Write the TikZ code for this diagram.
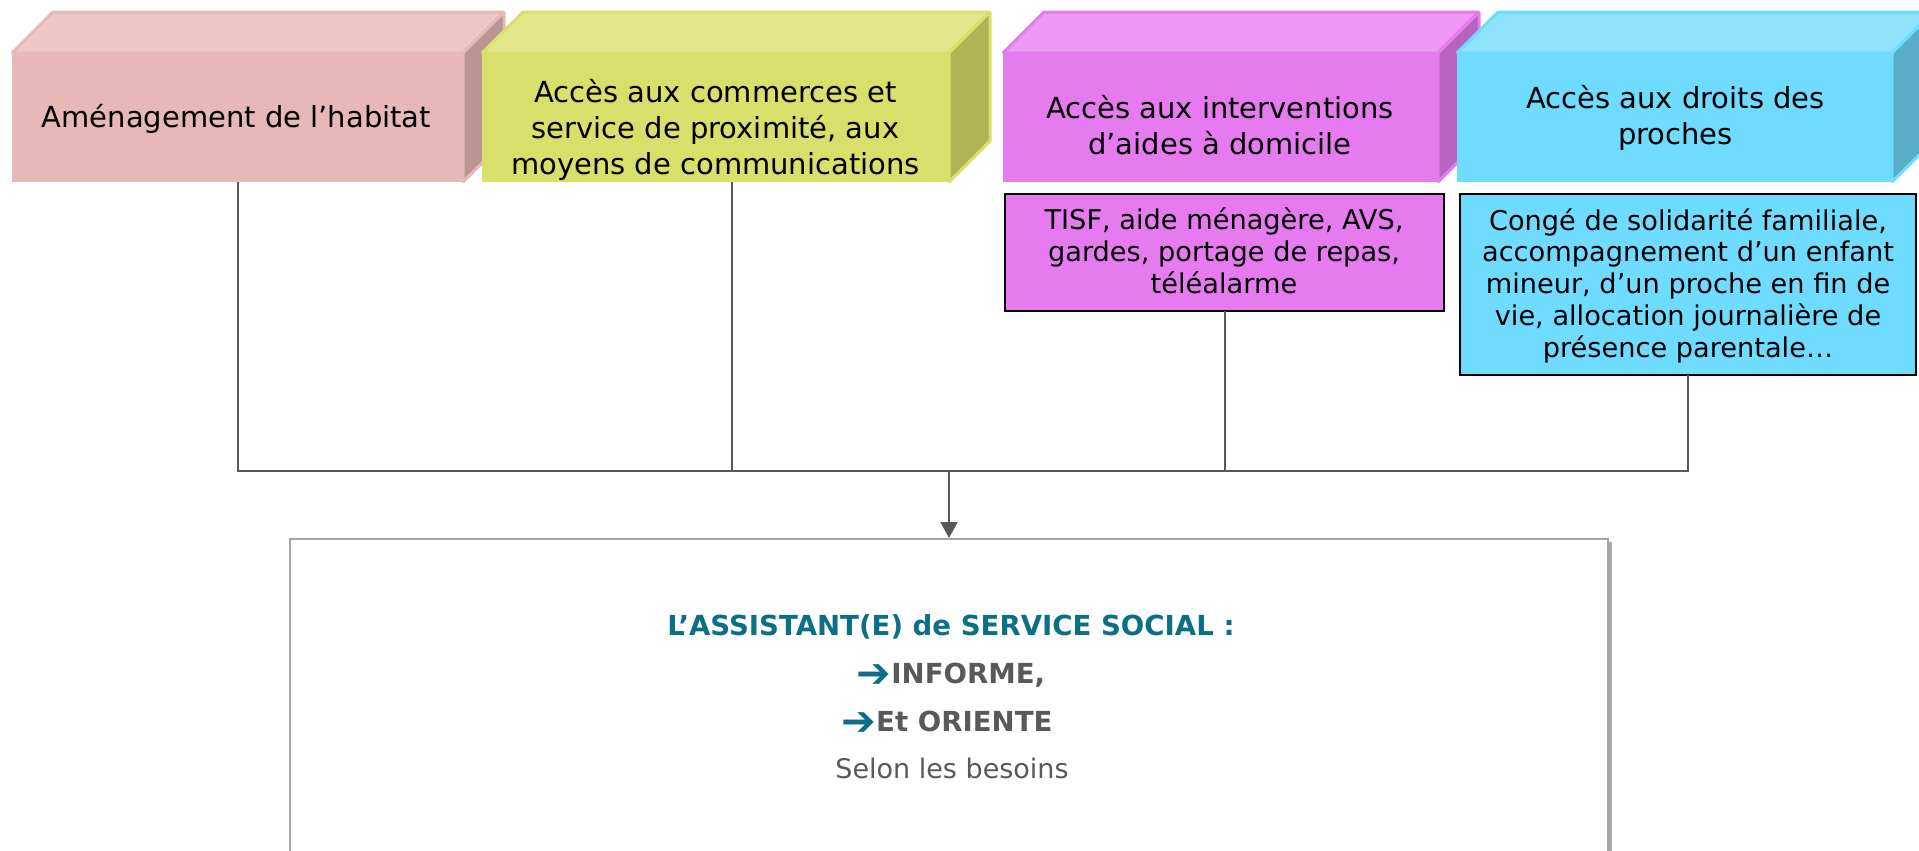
\documentclass[tikz,border=0pt]{standalone}
\usepackage{fontspec}
\usepackage{graphicx}
\setmainfont{DejaVu Sans}
\usetikzlibrary{arrows.meta,calc,shadows}
\definecolor{pinkF}{HTML}{E6B8B7}
\definecolor{pinkT}{HTML}{ECC9C8}
\definecolor{pinkR}{HTML}{BA9594}
\definecolor{yelF}{HTML}{D8E06B}
\definecolor{yelT}{HTML}{E2E78C}
\definecolor{yelR}{HTML}{AEB454}
\definecolor{magF}{HTML}{E67BEF}
\definecolor{magT}{HTML}{ED98F3}
\definecolor{magR}{HTML}{B963C1}
\definecolor{cyaF}{HTML}{6FDBFF}
\definecolor{cyaT}{HTML}{8FE3FD}
\definecolor{cyaR}{HTML}{5AADC9}
\definecolor{tealA}{HTML}{0B6F85}
\definecolor{lineG}{HTML}{595959}
\definecolor{boxG}{HTML}{A6A6A6}
\definecolor{textG}{HTML}{595959}
\newcommand\cubesides[2]{% #1 node name, #2 colour prefix
  \filldraw[fill=#2T, draw=#2F, line width=1.5pt, line join=bevel]
    (#1.north west) -- ++(41,-41) -- ($(#1.north east)+(41,-41)$) -- (#1.north east) -- cycle;
  \filldraw[fill=#2R, draw=#2F, line width=1.5pt, line join=bevel]
    (#1.north east) -- ++(41,-41) -- ++(0,129) -- (#1.south east) -- cycle;
}
\newcommand\bigarrow{{\color{tealA}\raisebox{-2.4pt}{\scalebox{1.5}[1.5]{➔}}}}
\tikzset{
  face/.style={inner sep=0pt, outer sep=0pt, minimum height=64.5pt},
  toptext/.style={align=center, inner sep=0pt, font=\fontsize{14.5}{18}\selectfont},
  subbox/.style={draw=black, line width=1pt, inner sep=0pt, outer sep=0pt},
  subtext/.style={align=center, inner sep=0pt, font=\fontsize{13.6}{15.9}\selectfont},
  conn/.style={draw=lineG, line width=1pt},
  maintext/.style={anchor=base, inner sep=0pt, font=\fontsize{13.5}{16}\selectfont},
  mainbold/.style={maintext, font=\bfseries\fontsize{13.8}{16}\selectfont},
}
\begin{document}
\begin{tikzpicture}[x=0.5pt,y=-0.5pt]
\useasboundingbox (0,0) rectangle (1919,851);
% top 3D boxes
\node[face, fill=pinkF, minimum width=225.5pt] (b1) at (237.5,117.5) {};
\cubesides{b1}{pink}
\node[face, fill=yelF, minimum width=233.5pt] (b2) at (715.5,117.5) {};
\cubesides{b2}{yel}
\node[face, fill=magF, minimum width=217.5pt] (b3) at (1220.5,117.5) {};
\cubesides{b3}{mag}
\node[face, fill=cyaF, minimum width=217.5pt] (b4) at (1674.5,117.5) {};
\cubesides{b4}{cya}
\node[toptext] (t1) at (236.5,118.5) {Aménagement de l’habitat};
\node[toptext] (t2) at (715.5,130) {Accès aux commerces et\\service de proximité, aux\\moyens de communications};
\node[toptext] (t3) at (1220,125.5) {Accès aux interventions\\d’aides à domicile};
\node[toptext] (t4) at (1675.5,118) {Accès aux droits des\\proches};
% sub boxes
\node[subbox, fill=magF, minimum width=219.5pt, minimum height=58.5pt] (s3) at (1224.5,252.5) {};
\node[subtext] (st3) at (1224,251) {TISF, aide ménagère, AVS,\\gardes, portage de repas,\\téléalarme};
\node[subbox, fill=cyaF, minimum width=228pt, minimum height=90.5pt] (s4) at (1688,284.5) {};
\node[subtext] (st4) at (1688,285.7) {Congé de solidarité familiale,\\accompagnement d’un enfant\\mineur, d’un proche en fin de\\vie, allocation journalière de\\présence parentale…};
% main box
\node[draw=boxG, line width=1pt, fill=white, inner sep=0pt, minimum width=659pt, minimum height=170.5pt,
  drop shadow={shadow xshift=2pt, shadow yshift=-1.5pt, fill=black!55, opacity=0.6}] (main) at (949,709.5) {};
\node[mainbold, text=tealA] (l1) at (951,635) {L’ASSISTANT(E) de SERVICE SOCIAL :};
\node[mainbold, text=textG] (l2) at (951,683) {\bigarrow INFORME,};
\node[mainbold, text=textG] (l3) at (947,731) {\bigarrow Et ORIENTE};
\node[maintext, text=textG] (l4) at (952,778) {Selon les besoins};
% connectors
\path (main.north) ++(0,-67) coordinate (J);
\draw[conn] (b1.south) |- (J);
\draw[conn] ([xshift=8pt]b2.south) |- (J);
\draw[conn] (s3.south) |- (J);
\draw[conn] (s4.south) |- (J);
\draw[conn, -{Triangle[width=8.5pt,length=8pt]}] (J) -- (main.north);
\end{tikzpicture}
\end{document}
